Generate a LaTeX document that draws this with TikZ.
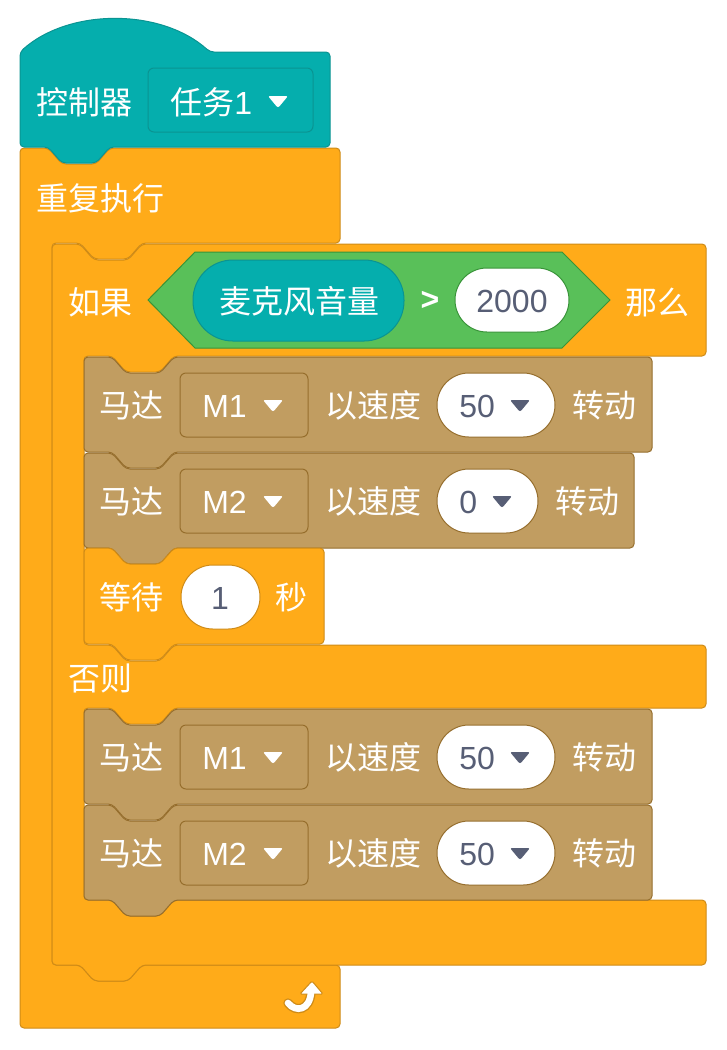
\documentclass[tikz,border=0pt]{standalone}
\usepackage{fontspec}
\setmainfont{Noto Sans CJK SC}
\newfontfamily\latinfont{Liberation Sans}
\definecolor{ctrlorange}{RGB}{255,171,25}
\definecolor{ctrlorangedark}{RGB}{207,139,23}
\definecolor{motorbrown}{RGB}{193,157,97}
\definecolor{motorbrowndark}{RGB}{150,110,45}
\definecolor{sensorteal}{RGB}{5,174,173}
\definecolor{sensortealdark}{RGB}{10,148,146}
\definecolor{opgreen}{RGB}{89,192,89}
\definecolor{opgreendark}{RGB}{56,148,56}
\definecolor{numgray}{RGB}{87,94,117}

\tikzset{
  blocktext/.style={font=\fontsize{24}{24}\selectfont, text=white, anchor=base west, inner sep=0pt},
  latintext/.style={blocktext, font=\fontsize{24}{24}\selectfont\latinfont},
  numtext/.style={latintext, text=numgray},
  ctrlblock/.style={fill=ctrlorange, draw=ctrlorangedark, line width=0.75pt, rounded corners=3pt},
  motorblock/.style={fill=motorbrown, draw=motorbrowndark, line width=0.75pt, rounded corners=3pt},
  menubox/.style={line width=0.75pt, rounded corners=4.5pt},
  valuepill/.style={fill=white, line width=0.75pt, rounded corners=23.9pt},
}

% stack block with notch on top and tab below: style, left, top, right, bottom
\newcommand{\stackblock}[5]{%
  \draw[#1] (#2,#3) -- (#2+28,#3) -- (#2+42,#3+16) -- (#2+76,#3+16) -- (#2+90,#3)
    -- (#4,#3) -- (#4,#5) -- (#2+90,#5) -- (#2+76,#5+16) -- (#2+42,#5+16) -- (#2+28,#5)
    -- (#2,#5) -- cycle;}
% dropdown arrow: colour, x, y
\newcommand{\menuarrow}[3]{%
  \fill[#1, rounded corners=1.5pt] (#2-10,#3-6) -- (#2+10,#3-6) -- (#2,#3+6) -- cycle;}

\begin{document}
\begin{tikzpicture}[x=0.75pt,y=-0.75pt]
\fill[white] (0,0) rectangle (726,1050);
% forever block
\draw[ctrlblock] (20,148) -- (48,148) -- (62,164) -- (96,164) -- (110,148) -- (340,148)
  -- (340,243) -- (142,243) -- (128,259) -- (94,259) -- (80,243) -- (52,243)
  -- (52,965) -- (80,965) -- (94,981) -- (128,981) -- (142,965) -- (340,965)
  -- (340,1028) -- (20,1028) -- cycle;
\node[blocktext] (foreverlabel) at (36,210) {重复执行};
% loop icon
\draw[ctrlorangedark, line width=7pt, line cap=round] (288,1003) .. controls (296,1013) and (310,1010) .. (311,992);
\filldraw[fill=white, draw=ctrlorangedark, line width=0.75pt, rounded corners=1pt] (312,981) -- (323,994) -- (300,994) -- cycle;
\draw[white, line width=5pt, line cap=round] (288,1003) .. controls (296,1013) and (310,1010) .. (311,992);

% hat block
\draw[fill=sensorteal, draw=sensortealdark, line width=0.75pt, rounded corners=3pt]
  (20,147) -- (20,52) .. controls (69,8) and (161,8) .. (210,52) -- (330,52) -- (330,147)
  -- (110,147) -- (96,163) -- (62,163) -- (48,147) -- cycle;
\node[blocktext] (hatlabel) at (36,114) {控制器};
\draw[menubox, fill=sensorteal, draw=sensortealdark] (148,68) rectangle (313,132);
\node[blocktext] (taskval) at (170,114) {任务{\latinfont 1}};
\menuarrow{white}{278}{102}

% if-else block
\draw[ctrlblock] (52,244) -- (80,244) -- (94,260) -- (128,260) -- (142,244) -- (706,244)
  -- (706,356) -- (174,356) -- (160,372) -- (126,372) -- (112,356) -- (84,356)
  -- (84,645) -- (112,645) -- (126,661) -- (160,661) -- (174,645) -- (706,645)
  -- (706,708) -- (174,708) -- (160,724) -- (126,724) -- (112,708) -- (84,708)
  -- (84,900) -- (112,900) -- (126,916) -- (160,916) -- (174,900) -- (706,900)
  -- (706,965) -- (142,965) -- (128,981) -- (94,981) -- (80,965) -- (52,965) -- cycle;
\node[blocktext] (iflabel) at (68,314) {如果};
\node[blocktext] (thenlabel) at (625,314) {那么};
\node[blocktext] (elselabel) at (68,690) {否则};
% condition
\draw[fill=opgreen, draw=opgreendark, line width=0.75pt]
  (148,300) -- (195,252) -- (562,252) -- (610,300) -- (562,348) -- (195,348) -- cycle;
\draw[fill=sensorteal, draw=sensortealdark, line width=0.75pt, rounded corners=29.9pt] (193,260) rectangle (404,341);
\node[blocktext] (miclabel) at (219,313) {麦克风音量};
\node[latintext, anchor=base, font=\fontsize{24}{24}\selectfont\latinfont\bfseries] (gtlabel) at (430,310) {>};
\draw[valuepill, draw=opgreendark] (455,268) rectangle (569,332);
\node[numtext, anchor=base] (thresval) at (512,312) {2000};

% motor blocks
\stackblock{motorblock}{84}{357}{652}{452}
\stackblock{motorblock}{84}{453}{634}{548}
\stackblock{ctrlblock}{84}{548}{324}{644}
\stackblock{motorblock}{84}{709}{652}{804}
\stackblock{motorblock}{84}{805}{652}{900}
\foreach \n/\yc/\mot/\spd/\pr/\ax/\tx in {1/405/M1/50/555/520/572, 2/501/M2/0/538/502/555,
    3/757/M1/50/555/520/572, 4/853/M2/50/555/520/572}{
  \node[blocktext] (motorlabel\n) at (99,\yc+12) {马达};
  \draw[menubox, fill=motorbrown, draw=motorbrowndark] (180,\yc-32) rectangle (308,\yc+32);
  \node[latintext] (motorport\n) at (202,\yc+12) {\mot};
  \menuarrow{white}{273}{\yc+1}
  \node[blocktext] (speedlabel\n) at (325,\yc+12) {以速度};
  \draw[valuepill, draw=motorbrowndark] (437,\yc-32) rectangle (\pr,\yc+32);
  \node[numtext] (speedval\n) at (459,\yc+12) {\spd};
  \menuarrow{numgray}{\ax}{\yc+1}
  \node[blocktext] (turnlabel\n) at (\tx,\yc+12) {转动};
}
% wait block
\node[blocktext] (waitlabel) at (99,609) {等待};
\draw[valuepill, draw=ctrlorangedark] (181,565) rectangle (260,629);
\node[numtext, anchor=base] (waitval) at (220,609) {1};
\node[blocktext] (seclabel) at (275,609) {秒};
\end{tikzpicture}
\end{document}
